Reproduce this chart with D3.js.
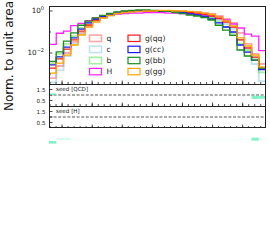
<!DOCTYPE html>
<html>
<head>
<meta charset="utf-8">
<script src="https://cdn.jsdelivr.net/npm/d3@7"></script>
<style>
body { margin: 0; background: #fff; }
text { font-family: "DejaVu Sans", sans-serif; }
</style>
</head>
<body>
<svg id="chart" width="270" height="250"></svg>
<script>
var labels = ["q", "c", "b", "H", "g(qq)", "g(cc)", "g(bb)", "g(gg)"];

// normalised bin contents, 30 bins each
var qVals = [0.00064, 0.0024, 0.01, 0.0335, 0.09, 0.193, 0.335, 0.49, 0.645, 0.76, 0.85, 0.9, 0.95, 1.0, 1.0, 1.0, 1.0, 1.0, 0.95, 0.9, 0.9, 0.8, 0.72, 0.578, 0.416, 0.27, 0.09, 0.027, 0.009, 0.003];
var cVals = [0.0004, 0.0015, 0.0072, 0.027, 0.08, 0.173, 0.32, 0.464, 0.61, 0.76, 0.85, 0.9, 0.95, 0.98, 1.0, 1.0, 0.98, 0.95, 0.9, 0.8, 0.72, 0.645, 0.518, 0.373, 0.24, 0.14, 0.0418, 0.0112, 0.003, 0.00046];
var bVals = [0.0033, 0.009, 0.027, 0.064, 0.155, 0.27, 0.416, 0.55, 0.68, 0.8, 0.9, 0.95, 1.0, 1.0, 1.0, 0.98, 0.95, 0.9, 0.85, 0.76, 0.68, 0.578, 0.464, 0.3, 0.173, 0.09, 0.027, 0.0139, 0.0058, 0.0012];
var hVals = [0.026, 0.087, 0.11, 0.2, 0.26, 0.345, 0.464, 0.578, 0.645, 0.72, 0.76, 0.8, 0.8, 0.85, 0.85, 0.85, 0.8, 0.8, 0.76, 0.72, 0.68, 0.645, 0.578, 0.518, 0.373, 0.24, 0.155, 0.08, 0.064, 0.013];
var gqqVals = [0.0019, 0.0052, 0.0154, 0.042, 0.11, 0.215, 0.373, 0.52, 0.645, 0.8, 0.9, 0.95, 1.0, 1.0, 1.0, 1.0, 1.0, 0.95, 0.9, 0.85, 0.8, 0.72, 0.578, 0.44, 0.3, 0.173, 0.042, 0.0173, 0.0064, 0.0019];
var gccVals = [0.0027, 0.0066, 0.019, 0.052, 0.137, 0.27, 0.416, 0.545, 0.72, 0.85, 0.95, 1.0, 1.03, 1.04, 1.03, 1.0, 0.97, 0.92, 0.85, 0.72, 0.645, 0.55, 0.416, 0.27, 0.173, 0.1, 0.024, 0.011, 0.0046, 0.0016];
var gbbVals = [0.004, 0.0112, 0.037, 0.09, 0.21, 0.33, 0.47, 0.62, 0.76, 0.9, 1.0, 1.06, 1.12, 1.12, 1.06, 1.0, 0.95, 0.85, 0.76, 0.645, 0.578, 0.49, 0.373, 0.21, 0.124, 0.07, 0.0139, 0.0072, 0.0046, 0.0019];
var gggVals = [0.0011, 0.0033, 0.008, 0.024, 0.072, 0.173, 0.3, 0.464, 0.61, 0.76, 0.85, 0.9, 0.95, 1.0, 1.0, 1.06, 1.06, 1.0, 1.0, 0.95, 0.9, 0.8, 0.68, 0.52, 0.335, 0.193, 0.052, 0.0216, 0.008, 0.0022];

// ratio panels: band low / high per bin and how strongly it shows
var seedQcdLo = [1.0, 1.0, 1.0, 1.0, 1.0, 1.0, 1.0, 1.0, 1.0, 1.0, 1.0, 1.0, 1.0, 1.0, 1.0, 1.0, 1.0, 1.0, 1.0, 1.0, 1.0, 1.0, 1.0, 1.0, 1.0, 1.0, 1.0, 1.0, 0.64, 0.66];
var seedQcdHi = [1.14, 1.0, 1.0, 1.0, 1.0, 1.0, 1.0, 1.0, 1.0, 1.0, 1.0, 1.0, 1.0, 1.0, 1.0, 1.0, 1.0, 1.0, 1.0, 1.0, 1.0, 1.0, 1.0, 1.0, 1.0, 1.0, 1.0, 1.0, 0.94, 0.92];
var seedQcdWeight = [0.8, 0, 0, 0, 0, 0, 0, 0, 0, 0, 0, 0, 0, 0, 0, 0, 0, 0, 0, 0, 0, 0, 0, 0, 0, 0, 0, 0, 0.8, 0.8];
var seedHLo = [-1.42, -1.08, -1.08, -1.06, -1.06, -1.06, -1.06, -1.06, -1.06, -1.06, -1.06, -1.06, -1.06, -1.06, -1.06, -1.06, -1.06, -1.06, -1.06, -1.06, -1.06, -1.06, -1.06, -1.06, -1.06, -1.06, -1.06, -1.06, -1.15, -1.06];
var seedHHi = [-1.18, -0.94, -0.94, -0.98, -0.98, -0.98, -0.98, -0.98, -0.98, -0.98, -0.98, -0.98, -0.98, -0.98, -0.98, -0.98, -0.98, -0.98, -0.98, -0.98, -0.98, -0.98, -0.98, -0.98, -0.98, -0.98, -0.98, -0.98, -0.88, -0.98];
var seedHWeight = [0.8, 0.3, 0.3, 0.08, 0.08, 0.08, 0.08, 0.08, 0.08, 0.08, 0.08, 0.08, 0.08, 0.08, 0.08, 0.08, 0.08, 0.08, 0.08, 0.08, 0.08, 0.08, 0.08, 0.08, 0.08, 0.08, 0.08, 0.08, 0.8, 0.15];

var xMajorTicks = [0, 1, 2, 3, 4, 5, 6];
var ratioTicks = [0.5, 1.0, 1.5];
var ratioTickLabels = ["0.5", "", "1.5"];
var logTicks = [1, 0.01];
var logTickExps = ["0", "\u22122"];

var svg = d3.select("#chart");
var left = 49, right = 266;
var xMin = -0.435, xMax = 6.775, nBins = 30;
var x = d3.scaleLinear().domain([xMin, xMax]).range([left, right]);
var yMain = d3.scaleLog().domain([3.34e-4, 1.73]).range([84, 6]);
var yR1 = d3.scaleLinear().domain([0, 2]).range([106, 84]);
var yR2 = d3.scaleLinear().domain([0, 2]).range([128, 106]);
var binW = (xMax - xMin) / nBins;

function edge(i)
{
    return x(xMin + i * binW);
}

function stepPath(vals)
{
    var bottom = 95;
    var p = d3.path();
    p.moveTo(edge(0), bottom);
    for (var i = 0; i < vals.length; i++)
    {
        p.lineTo(edge(i), yMain(vals[i]));
        p.lineTo(edge(i + 1), yMain(vals[i]));
    }
    p.lineTo(edge(vals.length), bottom);
    return p.toString();
}

function drawHists()
{
    var series = [qVals, cVals, bVals, hVals, gqqVals, gccVals, gbbVals, gggVals];
    var colors = ["rgba(255,0,0,0.35)", "rgba(120,190,220,0.45)", "rgba(50,220,50,0.45)", "#ff22ff",
                  "#ff1a1a", "#1a1aff", "#1e8c1e", "#ffa500"];
    svg.append("clipPath").attr("id", "mainclip")
        .append("rect").attr("x", left).attr("y", 6).attr("width", right - left).attr("height", 78);

    svg.append("g").attr("clip-path", "url(#mainclip)")
        .selectAll("path")
        .data(series)
        .enter().append("path")
        .attr("d", function(d) { return stepPath(d); })
        .attr("fill", "none")
        .attr("stroke", function(d, i) { return colors[i]; })
        .attr("stroke-width", function(d, i) { return i < 3 ? 1.8 : 1.3; });

    // legend, two columns
    var lg = svg.append("g");
    labels.forEach(function(name, i)
    {
        var col = Math.floor(i / 4), row = i % 4;
        var hx = col === 0 ? 89.5 : 128;
        var cy = 38.3 + row * 11.1;
        lg.append("rect")
            .attr("x", hx).attr("y", cy - 3.2)
            .attr("width", 12).attr("height", 6.4)
            .attr("fill", "none")
            .attr("stroke", colors[i])
            .attr("stroke-width", i < 3 ? 1.6 : 1.2);
        lg.append("text")
            .attr("x", hx + 17).attr("y", cy + 2.6)
            .attr("font-size", 7.6)
            .attr("fill", "#222")
            .text(name);
    });
}

function drawBands(lo, hi, weight, yScale)
{
    var g = svg.append("g");
    for (var i = 0; i < lo.length; i++)
    {
        if (weight[i] <= 0) continue;
        var y0 = yScale(hi[i]), y1 = yScale(lo[i]);
        g.append("rect")
            .attr("x", edge(i)).attr("y", Math.min(y0, y1))
            .attr("width", edge(i + 1) - edge(i))
            .attr("height", Math.max(1.5, Math.abs(y1 - y0)))
            .attr("fill", "#5ff0b8")
            .attr("fill-opacity", weight[i]);
    }
}

function drawXTicks(yPix)
{
    var g = svg.append("g").attr("stroke", "#222").attr("stroke-width", 0.8);
    var minor = d3.range(-2, 34).map(function(k) { return k * 0.2; })
        .filter(function(v) { return v > xMin && v < xMax; });
    g.selectAll("line.minor").data(minor).enter().append("line")
        .attr("x1", function(d) { return x(d); }).attr("x2", function(d) { return x(d); })
        .attr("y1", yPix).attr("y2", yPix - 2);
    g.selectAll("line.major").data(xMajorTicks).enter().append("line")
        .attr("x1", function(d) { return x(d); }).attr("x2", function(d) { return x(d); })
        .attr("y1", yPix).attr("y2", yPix - 3.5);
}

function drawRatioPanel(yScale, title)
{
    svg.append("line")
        .attr("x1", left).attr("x2", right)
        .attr("y1", yScale(1)).attr("y2", yScale(1))
        .attr("stroke", "#555").attr("stroke-width", 1)
        .attr("stroke-dasharray", "3,1.6");
    var g = svg.append("g");
    ratioTicks.forEach(function(t, i)
    {
        g.append("line")
            .attr("x1", left).attr("x2", left + 3.5)
            .attr("y1", yScale(t)).attr("y2", yScale(t))
            .attr("stroke", "#222").attr("stroke-width", 0.8);
        g.append("text")
            .attr("x", 45.5).attr("y", yScale(t) + 2)
            .attr("text-anchor", "end")
            .attr("font-size", 5.6)
            .attr("fill", "#222")
            .text(ratioTickLabels[i]);
    });
    svg.append("text")
        .attr("x", 56).attr("y", yScale(2) + 6.5)
        .attr("font-size", 5.6)
        .attr("fill", "#222")
        .text(title);
}

function drawMainAxis()
{
    var g = svg.append("g");
    logTicks.forEach(function(t, i)
    {
        g.append("line")
            .attr("x1", left).attr("x2", left + 3.5)
            .attr("y1", yMain(t)).attr("y2", yMain(t))
            .attr("stroke", "#222").attr("stroke-width", 0.8);
        var txt = g.append("text")
            .attr("x", 44).attr("y", yMain(t) + 2.5)
            .attr("text-anchor", "end")
            .attr("font-size", 7.2)
            .attr("fill", "#222");
        txt.append("tspan").text("10");
        txt.append("tspan").attr("dy", -3).attr("font-size", 5).text(logTickExps[i]);
    });
    [0.1, 0.001].forEach(function(t)
    {
        g.append("line")
            .attr("x1", left).attr("x2", left + 2)
            .attr("y1", yMain(t)).attr("y2", yMain(t))
            .attr("stroke", "#222").attr("stroke-width", 0.8);
    });
    svg.append("text")
        .attr("transform", "translate(13.3,56) rotate(-90)")
        .attr("text-anchor", "middle")
        .attr("font-size", 12)
        .attr("fill", "#111")
        .text("Norm. to unit area");
}

function drawFrame()
{
    var g = svg.append("g").attr("stroke", "#222").attr("stroke-width", 1).attr("fill", "none");
    g.append("line").attr("x1", left + 0.5).attr("x2", left + 0.5).attr("y1", 6).attr("y2", 128);
    g.append("line").attr("x1", right - 0.5).attr("x2", right - 0.5).attr("y1", 6).attr("y2", 128);
    [6.5, 84.5, 106.5, 127.5].forEach(function(yy)
    {
        g.append("line").attr("x1", left).attr("x2", right).attr("y1", yy).attr("y2", yy);
    });
}

function setup()
{
    drawHists();
    drawRatioPanel(yR1, "seed [QCD]");
    drawRatioPanel(yR2, "seed [H]");
    drawBands(seedQcdLo, seedQcdHi, seedQcdWeight, yR1);
    drawBands(seedHLo, seedHHi, seedHWeight, yR2);
    drawXTicks(84);
    drawXTicks(106);
    drawXTicks(128);
    drawMainAxis();
    drawFrame();
}

setup();
</script>
</body>
</html>
